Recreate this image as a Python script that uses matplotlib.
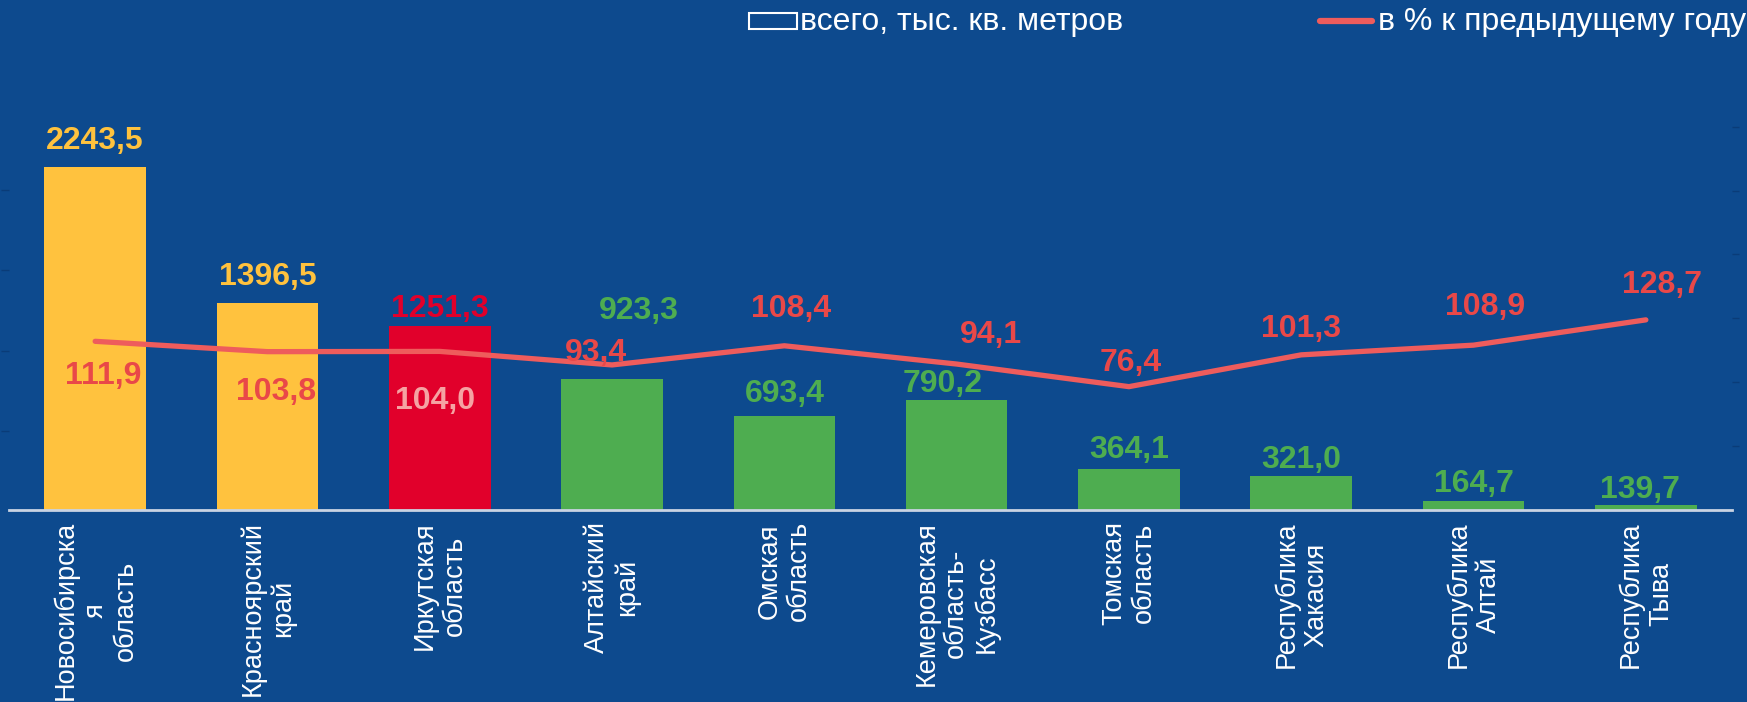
import matplotlib
matplotlib.use("Agg")
import matplotlib.pyplot as plt
import numpy as np
from matplotlib.patches import Rectangle
from matplotlib.lines import Line2D

# ---- data ----
regions = ["Новосибирска\nя\nобласть", "Красноярский\nкрай", "Иркутская\nобласть",
           "Алтайский\nкрай", "Омская\nобласть", "Кемеровская\nобласть-\nКузбасс",
           "Томская\nобласть", "Республика\nХакасия", "Республика\nАлтай", "Республика\nТыва"]
total = [2243.5, 1396.5, 1251.3, 923.3, 693.4, 790.2, 364.1, 321.0, 164.7, 139.7]
pct_prev = [111.9, 103.8, 104.0, 93.4, 108.4, 94.1, 76.4, 101.3, 108.9, 128.7]
legend_bar = "всего, тыс. кв. метров"
legend_line = "в % к предыдущему году"

# ---- style ----
BG = "#0D4A8E"
YEL = "#FFC23E"
RED = "#E1002B"
GRN = "#4EAD50"
LINE = "#EE5C5C"
LBL_RED = "#E94848"
TICKC = "#0A3C78"
bar_colors = [YEL, YEL, RED] + [GRN] * 7
bar_lbl_colors = [YEL, YEL, RED] + [GRN] * 7
line_lbl_colors = [LBL_RED, LBL_RED, "#F5A3A3"] + [LBL_RED] * 7
bar_off = [(0, 25.5), (0, 25.5), (0, 17.5), (27, 67.5), (0, 21.5), (-14, 16.5), (0, 18.5), (0, 15.5), (0, 16.5), (-6, 14.5)]
line_off = [(8, -34.5), (9, -40.5), (-5, -49.5), (-16, 11.5), (7, 36.5), (34, 29.5), (2, 23.5), (0, 25.5), (12, 38.5), (16, 34.5)]

FONT = ["Liberation Sans", "DejaVu Sans"]

W, H = 1747, 702
fig = plt.figure(figsize=(W / 100, H / 100), dpi=100, facecolor=BG)
ax = fig.add_axes([9 / W, 1 - 510 / H, (1732 - 9) / W, (510 - 60) / H])
ax.set_facecolor(BG)
x = np.arange(len(regions))
ax.bar(x, total, width=0.59, color=bar_colors, zorder=2)
ax.set_xlim(-0.5, len(regions) - 0.5)
ax.set_ylim(108, 2908)
ax.set_yticks([600, 1100, 1600, 2100])
ax.set_yticklabels([])
ax.tick_params(axis="y", length=6, width=1, color=TICKC)
for s in ["top", "left", "right"]:
    ax.spines[s].set_visible(False)
ax.spines["bottom"].set_color("#C9D3E3")
ax.spines["bottom"].set_linewidth(2)
ax.set_xticks(x)
ax.set_xticklabels(regions, rotation=90, ha="center", va="top", multialignment="center",
                   color="white", fontsize=19.5, family=FONT)
ax.tick_params(axis="x", length=0, pad=8)

for i, v in enumerate(total):
    ax.annotate(f"{v:.1f}".replace(".", ","), xy=(i, v), xytext=bar_off[i],
                textcoords="offset pixels", ha="center", va="center",
                color=bar_lbl_colors[i], fontsize=23, fontweight="bold", family=FONT,
                annotation_clip=False)

ax2 = ax.twinx()
ax2.set_ylim(-20.2, 332.2)
ax2.set_yticks([30, 80, 130, 180, 230, 280])
ax2.set_yticklabels([])
ax2.tick_params(axis="y", length=5, width=1, color=TICKC)
for s in ax2.spines.values():
    s.set_visible(False)
ax2.plot(x, pct_prev, color=LINE, lw=3.8, solid_capstyle="round", solid_joinstyle="round")
for i, v in enumerate(pct_prev):
    ax2.annotate(f"{v:.1f}".replace(".", ","), xy=(i, v), xytext=line_off[i],
                 textcoords="offset pixels", ha="center", va="center",
                 color=line_lbl_colors[i], fontsize=23, fontweight="bold", family=FONT,
                 annotation_clip=False)

# ---- legend ----
fig.patches.append(Rectangle((749 / W, 1 - 29 / H), 48 / W, 16 / H, transform=fig.transFigure,
                             fill=False, edgecolor="white", lw=1.5))
fig.text(800 / W, 1 - 22 / H, legend_bar, ha="left", va="center", color="white",
         fontsize=23, family=FONT)
fig.lines.append(Line2D([1320 / W, 1372 / W], [1 - 21 / H] * 2, transform=fig.transFigure,
                        color=LINE, lw=4.5, solid_capstyle="round"))
fig.text(1378 / W, 1 - 22 / H, legend_line, ha="left", va="center", color="white",
         fontsize=23, family=FONT)

fig.savefig("out.png", dpi=100, facecolor=BG)
